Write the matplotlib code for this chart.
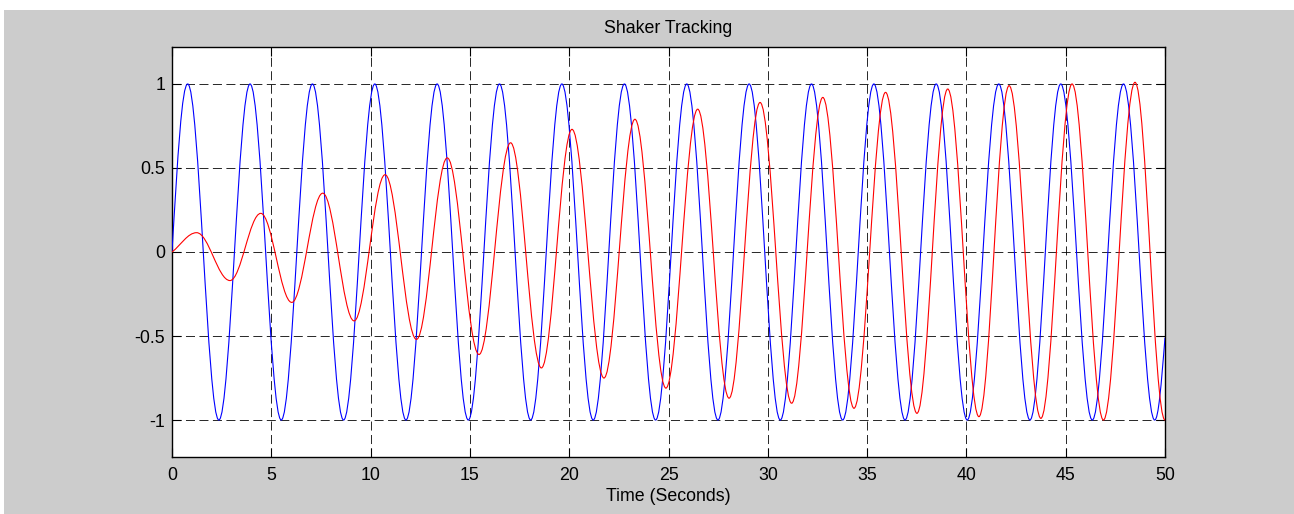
import numpy as np
import matplotlib.pyplot as plt
from matplotlib.path import Path
from matplotlib.patches import PathPatch, Rectangle

plt.rcParams['font.family'] = ['Liberation Sans', 'DejaVu Sans']
plt.rcParams['axes.unicode_minus'] = False
plt.rcParams['lines.scale_dashes'] = False

# turning points: start, every peak / trough, end (time s, value)
cmd_t = [0.0, 0.79, 2.36, 3.93, 5.50, 7.07, 8.64, 10.21, 11.78, 13.35, 14.92,
         16.49, 18.06, 19.63, 21.21, 22.78, 24.35, 25.92, 27.49, 29.06, 30.63,
         32.20, 33.77, 35.34, 36.91, 38.48, 40.04, 41.63, 43.20, 44.75, 46.34,
         47.91, 49.48, 50.0]
cmd_y = [0.0, 1, -1, 1, -1, 1, -1, 1, -1, 1, -1, 1, -1, 1, -1, 1, -1, 1, -1,
         1, -1, 1, -1, 1, -1, 1, -1, 1, -1, 1, -1, 1, -1, -0.51]

resp_t = [0.0, 1.24, 2.92, 4.47, 6.03, 7.59, 9.17, 10.73, 12.31, 13.86, 15.46,
          17.05, 18.60, 20.14, 21.75, 23.31, 24.87, 26.47, 28.05, 29.61, 31.20,
          32.77, 34.34, 35.93, 37.51, 39.06, 40.63, 42.15, 43.75, 45.32, 46.90,
          48.49, 50.0]
resp_y = [0.0, 0.115, -0.17, 0.23, -0.30, 0.35, -0.41, 0.46, -0.52, 0.56, -0.61,
          0.65, -0.69, 0.73, -0.75, 0.79, -0.81, 0.85, -0.87, 0.89, -0.90,
          0.92, -0.93, 0.95, -0.96, 0.97, -0.98, 0.99, -0.99, 1.0, -1.0,
          1.01, -1.0]

xticks = [0, 5, 10, 15, 20, 25, 30, 35, 40, 45, 50]
yticks = [-1, -0.5, 0, 0.5, 1]
ytick_labels = ['-1', '-0.5', '0', '0.5', '1']


def smooth_path(t, y, m_start, m_end):
    # cubic bezier through the turning points, flat at each peak/trough
    k = 0.3634
    verts = [(t[0], y[0])]
    codes = [Path.MOVETO]
    n = len(t)
    for i in range(n - 1):
        h = t[i + 1] - t[i]
        m0 = m_start if i == 0 else 0.0
        m1 = m_end if i == n - 2 else 0.0
        verts += [(t[i] + k * h, y[i] + m0 * k * h),
                  (t[i + 1] - k * h, y[i + 1] - m1 * k * h),
                  (t[i + 1], y[i + 1])]
        codes += [Path.CURVE4] * 3
    return Path(verts, codes)


fig = plt.figure(figsize=(12.94, 5.14), dpi=100)
fig.patch.set_facecolor('white')
fig.patches.append(Rectangle((4 / 1294, 0), 1, (514 - 10) / 514,
                             transform=fig.transFigure, facecolor='#cccccc',
                             edgecolor='none', zorder=-10))

ax = fig.add_axes([172 / 1294, 57 / 514, 993 / 1294, 410 / 514])
ax.set_facecolor('white')

# slope at the ends of the command signal: quarter of a sine wave
m0 = np.pi / 2 * (cmd_y[1] - cmd_y[0]) / (cmd_t[1] - cmd_t[0])
m1 = np.pi / 2 * (cmd_y[-1] - cmd_y[-2]) / (cmd_t[-1] - cmd_t[-2])
ax.add_patch(PathPatch(smooth_path(cmd_t, cmd_y, m0, m1), fill=False,
                       edgecolor='#0000ff', linewidth=0.8, zorder=3))
ax.add_patch(PathPatch(smooth_path(resp_t, resp_y, 0.09, 0.0), fill=False,
                       edgecolor='#ff0000', linewidth=0.8, zorder=4))

ax.set_xlim(0, 50)
ax.set_ylim(-1.22, 1.22)
ax.set_xticks(xticks)
ax.set_xticklabels([str(v) for v in xticks])
ax.set_yticks(yticks)
ax.set_yticklabels(ytick_labels)
ax.tick_params(direction='in', length=6.5, width=0.8, top=True, right=True,
               labelsize=12.8, colors='black')
ax.tick_params(axis='x', pad=7)
ax.tick_params(axis='y', pad=5)
ax.grid(True, color='black', linestyle=(0, (6.5, 3.2)), linewidth=0.7, alpha=0.85)
ax.set_axisbelow(True)
for s in ax.spines.values():
    s.set_linewidth(1.0)

ax.set_title('Shaker Tracking', fontsize=12.8, pad=10)
ax.set_xlabel('Time (Seconds)', fontsize=12.8, labelpad=3)

fig.savefig('out.png', dpi=100, facecolor=fig.get_facecolor())
